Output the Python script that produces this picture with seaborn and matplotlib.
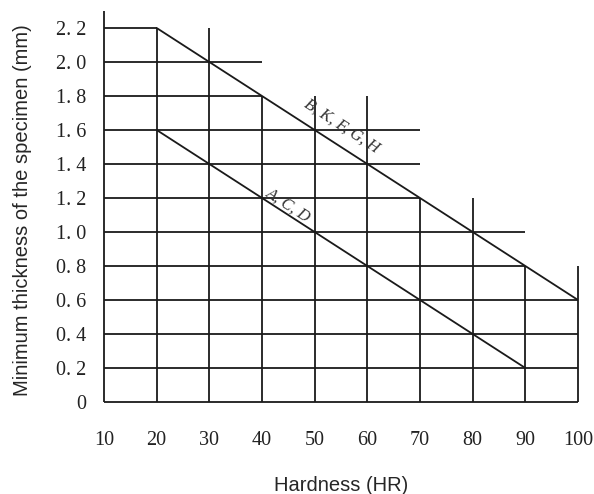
import pandas as pd
import seaborn as sns
import matplotlib.pyplot as plt

# ruler lines of the scanned grid
hardness = [10, 20, 30, 40, 50, 60, 70, 80, 90, 100]
vline_top = [2.3, 2.2, 2.2, 1.8, 1.8, 1.8, 1.2, 1.2, 0.8, 0.8]
thickness = [0, 0.2, 0.4, 0.6, 0.8, 1.0, 1.2, 1.4, 1.6, 1.8, 2.0, 2.2]
hline_end = [100, 100, 100, 100, 90, 90, 70, 70, 70, 40, 40, 20]
y_labels = ['0', '0. 2', '0. 4', '0. 6', '0. 8', '1. 0', '1. 2', '1. 4',
            '1. 6', '1. 8', '2. 0', '2. 2']

# the two limit curves
upper_x = [20, 100]
upper_y = [2.2, 0.6]
lower_x = [20, 90]
lower_y = [1.6, 0.2]

curves = pd.DataFrame({
    'HR': upper_x + lower_x,
    'mm': upper_y + lower_y,
    'scale': ['B, K, F, G, H'] * 2 + ['A, C, D'] * 2,
})

sns.set_style("white")
plt.rcParams['font.family'] = ['Liberation Serif', 'DejaVu Serif']

fig = plt.figure(figsize=(5.94, 4.94), dpi=100)
ax = fig.add_axes([104 / 594, 92 / 494, 474 / 594, 391 / 494])
ax.set_xlim(10, 100)
ax.set_ylim(0, 2.3)

ink = '#1a1a1a'
ax.vlines(hardness, 0, vline_top, color=ink, lw=1.3, clip_on=False)
ax.hlines(thickness, 10, hline_end, color=ink, lw=1.3, clip_on=False)

sns.lineplot(data=curves, x='HR', y='mm', hue='scale', palette=[ink, ink],
             lw=1.3, legend=False, ax=ax)

ax.text(55.2, 1.62, 'B, K, F, G, H', rotation=-33, ha='center', va='center',
        style='italic', fontsize=12, color='#333333')
ax.text(44.9, 1.16, 'A, C, D', rotation=-33, ha='center', va='center',
        style='italic', fontsize=12, color='#333333')

for s in ax.spines.values():
    s.set_visible(False)
ax.set_xticks(hardness)
ax.set_xticklabels([str(h) for h in hardness])
ax.set_yticks(thickness)
ax.set_yticklabels(y_labels)
ax.tick_params(axis='x', length=0, pad=21, labelsize=14.5, labelcolor='#222222')
ax.tick_params(axis='y', length=0, pad=13, labelsize=14.5, labelcolor='#222222')

ax.set_xlabel('Hardness (HR)', family='Liberation Sans', fontsize=14.5)
ax.set_ylabel('Minimum thickness of the specimen (mm)', family='Liberation Sans',
              fontsize=14.5)
ax.yaxis.set_label_coords(-0.152, 0.49)
ax.xaxis.set_label_coords(0.5, -0.19)

fig.savefig('out.png', dpi=100)
